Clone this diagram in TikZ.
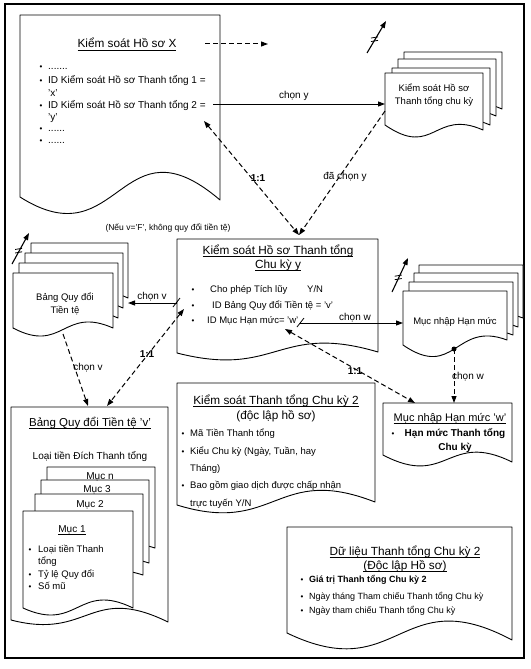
\documentclass[tikz,border=0pt]{standalone}
\usepackage{fontspec}
\setmainfont{Liberation Sans}
\usetikzlibrary{arrows.meta,calc}
\newcommand\myfs[1]{\fontsize{#1}{#1}\selectfont}
\newcommand\myul[1]{\setbox0\hbox{#1}\rlap{\rule[-2.3pt]{\wd0}{0.75pt}}\box0}
% document shape: [style] x1 y1 x2 yleft yright dip peak
\newcommand\mydoc[8][]{%
  \draw[docline,#1] (#2,#5) -- (#2,#3) -- (#4,#3) -- (#4,#6)
    .. controls ({(#2+#4)/2},{#6-2.737*#8-0.728*#7}) and ({(#2+#4)/2},{#5+2.737*#7+0.728*#8}) .. (#2,#5) -- cycle;}
\newcommand\mychg[2]{% change symbol: start coordinate, end coordinate
  \draw[arr, line width=1.1pt] (#1) -- (#2);
  \draw[line width=0.8pt] ($(#1)!0.42!(#2)+(-4,-1.5)$) -- ++(7,-1.2);
  \draw[line width=0.8pt] ($(#1)!0.42!(#2)+(-4,2)$) -- ++(7,-1.2);}
\begin{document}
\begin{tikzpicture}[x=1pt,y=-1pt,
  docline/.style={draw=black, line width=0.9pt, fill=white, line join=round},
  t/.style={inner sep=0pt, anchor=base west, font=\myfs{9.5}},
  tc/.style={inner sep=0pt, anchor=base, font=\myfs{9.5}},
  ttl/.style={inner sep=0pt, anchor=base, font=\myfs{11.8}},
  lbl/.style={inner sep=0pt, anchor=base, font=\myfs{10}},
  bul/.style={inner sep=0pt, anchor=base, font=\myfs{8}},
  dsh/.style={line width=1pt, dash pattern=on 5pt off 3pt},
  arr/.style={-{Triangle[length=7pt,width=5pt]}},
  arrb/.style={{Triangle[length=7pt,width=5pt]}-{Triangle[length=7pt,width=5pt]}},
  tick/.style={line width=0.8pt}]
\useasboundingbox (0,0) rectangle (530,669);
\fill[white] (0,0) rectangle (530,669);
\draw[line width=1.4pt] (5,4) rectangle (524,658);

% ---------- document shapes ----------
% Kiem soat Ho so X
\mydoc{20}{15}{220}{197}{200}{16}{27}
% stack: Kiem soat Ho so Thanh tong chu ky
\mydoc{404}{52}{502}{104}{109}{11}{5}
\mydoc{398}{59}{496}{111}{116}{11}{5}
\mydoc{392}{68}{490}{120}{125}{11}{5}
\mydoc{385}{73}{483}{125}{130}{11}{5}
% Kiem soat Ho so Thanh tong Chu ky y
\mydoc{177}{239}{378}{353}{352}{7}{9}
% stack: Bang Quy doi Tien te
\mydoc{31}{243}{128}{298}{298}{8}{6}
\mydoc{25}{253}{123}{308}{308}{8}{6}
\mydoc{19}{263}{118}{318}{318}{8}{6}
\mydoc{13}{273}{113}{328}{328}{8}{6}
% stack: Muc nhap Han muc
\mydoc{419}{265}{523}{323}{318}{12}{4}
\mydoc{414}{273}{518}{332}{327}{12}{4}
\mydoc{409}{282}{513}{340}{335}{12}{4}
\mydoc{403}{291}{507}{345}{340}{12}{4}
% Kiem soat Thanh tong Chu ky 2
\mydoc{177}{383}{375}{505}{502}{8}{12}
% Muc nhap Han muc 'w'
\mydoc{383}{403}{512}{455}{462}{10}{9}
% Du lieu Thanh tong Chu ky 2
\mydoc{287}{527}{512}{633}{640}{15}{18}
% Bang Quy doi Tien te 'v'
\mydoc{11}{407}{168}{620}{622}{4}{13}
\mydoc{47}{467}{155}{548}{548}{5}{5}
\mydoc{41}{480}{149}{563}{563}{5}{5}
\mydoc{35}{494}{143}{575}{575}{5}{5}
\mydoc{23}{511}{133}{608}{608}{7}{8}

% ---------- texts ----------
\node[ttl] (xt) at (127,48) {\myul{Kiểm soát Hồ sơ X}};
\node[bul] (xb0) at (41,70) {•};
\node[t, font=\myfs{10}] (xl0) at (48,70) {.......};
\node[bul] (xb1) at (41,84) {•};
\node[t, font=\myfs{10}] (xl1) at (48,84) {ID Kiểm soát Hồ sơ Thanh tổng 1 =};
\node[t, font=\myfs{10}] (xl1b) at (48,96) {'x'};
\node[bul] (xb2) at (41,108) {•};
\node[t, font=\myfs{10}] (xl2) at (48,108) {ID Kiểm soát Hồ sơ Thanh tổng 2 =};
\node[t, font=\myfs{10}] (xl2b) at (48,120) {'y'};
\node[bul] (xb3) at (41,131) {•};
\node[t, font=\myfs{10}] (xl3) at (48,131) {......};
\node[bul] (xb4) at (41,143) {•};
\node[t, font=\myfs{10}] (xl4) at (48,143) {......};

\node[tc] (ks1) at (434,92) {Kiểm soát Hồ sơ};
\node[tc] (ks2) at (434,104) {Thanh tổng chu kỳ};

\node[tc, font=\myfs{8.5}] (note) at (168,230) {(Nếu v='F', không quy đổi tiền tệ)};

\node[ttl] (yt1) at (278,254) {\myul{Kiểm soát Hồ sơ Thanh tổng}};
\node[ttl] (yt2) at (278,268) {\myul{Chu kỳ y}};
\node[bul] (yb1) at (193,292) {•};
\node[t] (yl1) at (210,292) {Cho phép Tích lũy};
\node[t] (yl1b) at (307,292) {Y/N};
\node[bul] (yb2) at (193,308) {•};
\node[t] (yl2) at (212,308) {ID Bảng Quy đổi Tiền tệ = 'v'};
\node[bul] (yb3) at (193,323) {•};
\node[t] (yl3) at (207,323) {ID Mục Hạn mức= 'w'};

\node[tc] (bq1) at (65,300) {Bảng Quy đổi};
\node[tc] (bq2) at (65,313) {Tiền tệ};

\node[tc] (mn) at (455,324) {Mục nhập Hạn mức};

\node[ttl] (ct1) at (276,404) {\myul{Kiểm soát Thanh tổng Chu kỳ 2}};
\node[ttl] (ct2) at (276,419) {(độc lập hồ sơ)};
\node[bul] (cb1) at (183,436) {•};
\node[t] (cl1) at (190,436) {Mã Tiền Thanh tổng};
\node[bul] (cb2) at (183,454) {•};
\node[t] (cl2) at (190,454) {Kiểu Chu kỳ (Ngày, Tuần, hay};
\node[t] (cl2b) at (190,471) {Tháng)};
\node[bul] (cb3) at (183,488) {•};
\node[t] (cl3) at (190,488) {Bao gồm giao dịch được chấp nhận};
\node[t] (cl3b) at (190,506) {trực tuyến Y/N};

\node[ttl, font=\myfs{11}] (wt) at (450,421) {\myul{Mục nhập Hạn mức 'w'}};
\node[bul] (wb) at (393,436) {•};
\node[tc, font=\bfseries\myfs{10}] (wl1) at (455,436) {Hạn mức Thanh tổng};
\node[tc, font=\bfseries\myfs{10}] (wl2) at (455,450) {Chu kỳ};

\node[ttl] (dt1) at (405,555) {\myul{Dữ liệu Thanh tổng Chu kỳ 2}};
\node[ttl] (dt2) at (405,569) {\myul{(Độc lập Hồ sơ)}};
\node[bul] (db1) at (302,582) {•};
\node[t, font=\bfseries\myfs{9}] (dl1) at (309,582) {Giá trị Thanh tổng Chu kỳ 2};
\node[bul] (db2) at (302,599) {•};
\node[t, font=\myfs{9}] (dl2) at (309,599) {Ngày tháng Tham chiếu Thanh tổng Chu kỳ};
\node[bul] (db3) at (302,613) {•};
\node[t, font=\myfs{9}] (dl3) at (309,613) {Ngày tham chiếu Thanh tổng Chu kỳ};

\node[ttl, font=\myfs{11.5}] (vt) at (90,426) {\myul{Bảng Quy đổi Tiền tệ 'v'}};
\node[tc, font=\myfs{10}] (vl) at (90,459) {Loại tiền Đích Thanh tổng};
\node[tc, font=\myfs{10}] (mun) at (100,479) {Mục n};
\node[tc, font=\myfs{10}] (mu3) at (97,492) {Mục 3};
\node[tc, font=\myfs{10}] (mu2) at (90,507) {Mục 2};
\node[tc, font=\myfs{10}] (mu1) at (72,532) {\myul{Mục 1}};
\node[bul] (vb1) at (30,552) {•};
\node[t] (vl1) at (38,552) {Loại tiền Thanh};
\node[t] (vl1b) at (38,564) {tổng};
\node[bul] (vb2) at (30,577) {•};
\node[t] (vl2) at (38,577) {Tỷ lệ Quy đổi};
\node[bul] (vb3) at (30,589) {•};
\node[t] (vl3) at (38,589) {Số mũ};

% ---------- connector end points ----------
\coordinate (xT) at (205,44);
\coordinate (xTend) at (268,44);
\coordinate (x2) at (213,104);
\coordinate (kstack) at (385,104);
\coordinate (x2b) at (204,121);
\coordinate (ytop) at (299,235);
\coordinate (kstackb) at (385,111);
\coordinate (yleft) at (177,303);
\coordinate (bstack) at (128,303);
\coordinate (yleftb) at (184,309);
\coordinate (vtop2) at (107,406);
\coordinate (bbot) at (63,334);
\coordinate (vtop1) at (88,406);
\coordinate (yw) at (300,323);
\coordinate (mstack) at (403,323);
\coordinate (ywb) at (285,329);
\coordinate (wtop1) at (415,403);
\coordinate (mdot) at (454,349);
\coordinate (wtop2) at (454,403);
\coordinate (c1a) at (367,53);  \coordinate (c1b) at (386,21);
\coordinate (c2a) at (12,264);  \coordinate (c2b) at (29,233);
\coordinate (c3a) at (392,292); \coordinate (c3b) at (408,258);

% ---------- connectors ----------
\draw[dsh, arr] (xT) -- (xTend);
\draw[line width=1pt, arr] (x2) -- node[lbl, above=3pt, pos=0.47] (ly) {chọn y} (kstack);
\draw[dsh, arrb] (x2b) -- (ytop);
\node[lbl, font=\bfseries\myfs{10}] (r1) at (258,181) {1:1};
\draw[dsh, arr] (kstackb) -- (ytop);
\node[lbl] (ldy) at (345,179) {đã chọn y};

\draw[line width=1pt, arr] (yleft) -- (bstack);
\node[lbl] (lcv) at (152,299) {chọn v};
\draw[tick] (173,307) -- (180,298);
\draw[dsh, arrb] (yleftb) -- (vtop2);
\node[lbl, font=\bfseries\myfs{10}] (r2) at (147,357) {1:1};
\draw[dsh, arr] (bbot) -- (vtop1);
\node[lbl] (lcv2) at (88,370) {chọn v};

\draw[line width=1pt, arr] (yw) -- (mstack);
\node[lbl] (lcw) at (355,320) {chọn w};
\draw[tick] (297,327) -- (304,318);
\draw[dsh, arrb] (ywb) -- (wtop1);
\node[lbl, font=\bfseries\myfs{10}] (r3) at (355,374) {1:1};
\fill (mdot) circle (2.5);
\draw[dsh, arr] (mdot) -- (wtop2);
\node[lbl] (lcw2) at (468,379) {chọn w};

\mychg{c1a}{c1b}
\mychg{c2a}{c2b}
\mychg{c3a}{c3b}
\end{tikzpicture}
\end{document}
